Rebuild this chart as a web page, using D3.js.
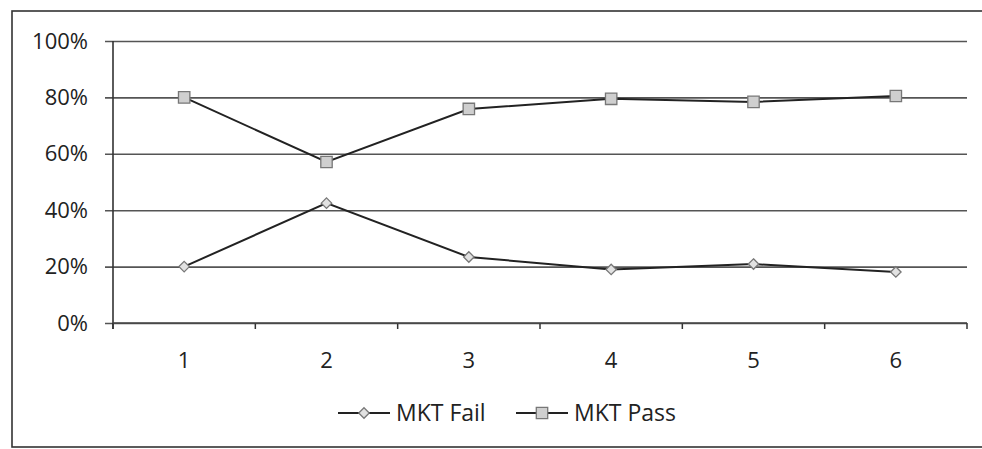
<!DOCTYPE html>
<html>
<head>
<meta charset="utf-8">
<script src="https://cdn.jsdelivr.net/npm/d3@7"></script>
<style>
  html, body { margin: 0; padding: 0; background: #fff; }
  svg { display: block; }
  text { font-family: "Open Sans", "Noto Sans", sans-serif; fill: #222; }
</style>
</head>
<body>
<svg id="chart" width="982" height="449"></svg>
<script>
// Chart data
const categories = ["1", "2", "3", "4", "5", "6"];
const mktFail = [0.20, 0.425, 0.234, 0.19, 0.209, 0.181];
const mktPass = [0.80, 0.571, 0.759, 0.795, 0.784, 0.805];
const yTicks = [0, 0.2, 0.4, 0.6, 0.8, 1.0];
const seriesNames = ["MKT Fail", "MKT Pass"];

const svg = d3.select("#chart");
const plot = { left: 113, right: 967, top: 41, bottom: 323 };

// Outer chart frame
svg.append("rect")
  .attr("x", 12).attr("y", 11)
  .attr("width", 990).attr("height", 436)
  .attr("fill", "none").attr("stroke", "#333").attr("stroke-width", 1.6);

const x = d3.scaleBand().domain(categories).range([plot.left, plot.right]).padding(0);
const y = d3.scaleLinear().domain([0, 1]).range([plot.bottom, plot.top]);
const cx = d => x(d) + x.bandwidth() / 2;

// Horizontal gridlines and y labels
const yAxis = d3.axisLeft(y).tickValues(yTicks).tickFormat(d3.format(".0%"))
  .tickSize(-(plot.right - plot.left)).tickPadding(25);
const gy = svg.append("g").attr("transform", `translate(${plot.left},0)`).call(yAxis);
gy.select(".domain").remove();
gy.selectAll(".tick line")
  .attr("x1", -8)
  .attr("stroke", "#555").attr("stroke-width", 1.6);
gy.selectAll(".tick text")
  .attr("font-size", 22)
  .attr("font-family", "'Open Sans', sans-serif")
  .style("fill", "#222");

// Vertical axis line
svg.append("line")
  .attr("x1", plot.left).attr("x2", plot.left)
  .attr("y1", plot.top).attr("y2", plot.bottom + 6)
  .attr("stroke", "#333").attr("stroke-width", 1.6);

// X axis with ticks on category boundaries
const boundaries = categories.map(c => x(c)).concat([plot.right]);
svg.append("g").selectAll("line").data(boundaries).join("line")
  .attr("x1", d => d).attr("x2", d => d)
  .attr("y1", plot.bottom).attr("y2", plot.bottom + 6)
  .attr("stroke", "#333").attr("stroke-width", 1.5);
svg.append("line")
  .attr("x1", plot.left).attr("x2", plot.right)
  .attr("y1", plot.bottom).attr("y2", plot.bottom)
  .attr("stroke", "#444").attr("stroke-width", 1.6);
svg.append("g").selectAll("text").data(categories).join("text")
  .attr("x", d => cx(d)).attr("y", 368)
  .attr("text-anchor", "middle").attr("font-size", 22)
  .text(d => d);

const line = d3.line().x((d, i) => cx(categories[i])).y(d => y(d));

// Series lines
[mktFail, mktPass].forEach(vals => {
  svg.append("path").datum(vals)
    .attr("d", line)
    .attr("fill", "none").attr("stroke", "#222").attr("stroke-width", 2);
});

const diamond = d3.symbol().type(d3.symbolDiamond2).size(70);
const square = d3.symbol().type(d3.symbolSquare).size(130);

// Markers
svg.append("g").selectAll("path").data(mktFail).join("path")
  .attr("transform", (d, i) => `translate(${cx(categories[i])},${y(d)})`)
  .attr("d", diamond)
  .attr("fill", "#e2e2e2").attr("stroke", "#777").attr("stroke-width", 1.3);
svg.append("g").selectAll("path").data(mktPass).join("path")
  .attr("transform", (d, i) => `translate(${cx(categories[i])},${y(d)})`)
  .attr("d", square)
  .attr("fill", "#cfcfcf").attr("stroke", "#777").attr("stroke-width", 1.3);

// Legend
const legend = [
  { name: seriesNames[0], x0: 338, sym: diamond, fill: "#e2e2e2" },
  { name: seriesNames[1], x0: 516, sym: square, fill: "#cfcfcf" }
];
const ly = 413;
legend.forEach(l => {
  svg.append("line")
    .attr("x1", l.x0).attr("x2", l.x0 + 52)
    .attr("y1", ly).attr("y2", ly)
    .attr("stroke", "#222").attr("stroke-width", 2);
  svg.append("path")
    .attr("transform", `translate(${l.x0 + 26},${ly})`)
    .attr("d", l.sym)
    .attr("fill", l.fill).attr("stroke", "#777").attr("stroke-width", 1.3);
  svg.append("text")
    .attr("x", l.x0 + 58).attr("y", ly + 8)
    .attr("font-size", 23)
    .text(l.name);
});
</script>
</body>
</html>
